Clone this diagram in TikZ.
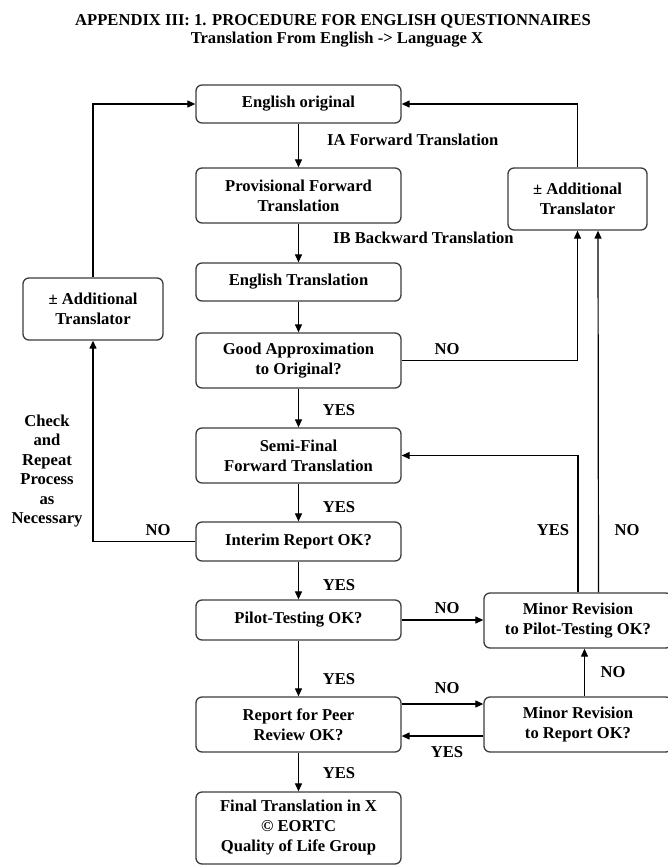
\documentclass[tikz,border=0pt]{standalone}
\usepackage{fontspec}
\setmainfont{Liberation Serif}
\usetikzlibrary{arrows.meta,calc,positioning}
\definecolor{BoxLine}{RGB}{60,60,60}

\begin{document}
\begin{tikzpicture}[x=1pt,y=-1pt,>={Triangle[length=8pt,width=7pt]},
    box/.style={draw=BoxLine,line width=1.3pt,rounded corners=6pt,align=center,
      inner sep=0pt,font=\fontsize{16.6}{20}\selectfont\bfseries},
    lbl/.style={font=\fontsize{16.6}{20}\selectfont\bfseries,inner sep=0pt},
    conn/.style={->,line width=1.2pt}]
  \useasboundingbox (0,0) rectangle (667,865);
  % title
  \node[lbl,anchor=base] (title) at (333,25)
    {APPENDIX III: 1. PROCEDURE FOR ENGLISH QUESTIONNAIRES};
  \node[lbl,anchor=base] (subtitle) at (337,43)
    {Translation From English -> Language X};
  % main column
  \node[box,minimum width=205pt,minimum height=38pt] (orig) at (298.5,104) {English original};
  \node[box,minimum width=205pt,minimum height=55pt] (prov) at (298.5,195.5) {Provisional Forward\\Translation};
  \node[box,minimum width=205pt,minimum height=38pt] (engtr) at (298.5,282) {English Translation};
  \node[box,minimum width=205pt,minimum height=55pt] (approx) at (298.5,360.5) {Good Approximation\\to Original?};
  \node[box,minimum width=205pt,minimum height=55pt] (semi) at (298.5,455.5) {Semi-Final\\Forward Translation};
  \node[box,minimum width=205pt,minimum height=39pt] (interim) at (298.5,541.5) {Interim Report OK?};
  \node[box,minimum width=205pt,minimum height=40pt] (pilot) at (298.5,620) {Pilot-Testing OK?};
  \node[box,minimum width=205pt,minimum height=55pt] (peer) at (298.5,724.5) {Report for Peer\\Review OK?};
  \node[box,minimum width=205pt,minimum height=72pt] (final) at (298.5,828) {Final Translation in X\\© EORTC\\Quality of Life Group};
  % side boxes
  \node[box,minimum width=139pt,minimum height=62pt] (addright) at (577.5,199) {± Additional\\Translator};
  \node[box,minimum width=140pt,minimum height=62pt] (addleft) at (93,309) {± Additional\\Translator};
  \node[box,minimum width=188pt,minimum height=55pt] (minpilot) at (578,620.5) {Minor Revision\\to Pilot-Testing OK?};
  \node[box,minimum width=188pt,minimum height=55pt] (minreport) at (578,724.5) {Minor Revision\\to Report OK?};
  % down the middle
  \draw[conn] (orig) -- (prov);
  \draw[conn] (prov) -- (engtr);
  \draw[conn] (engtr) -- (approx);
  \draw[conn] (approx) -- (semi);
  \draw[conn] (semi) -- (interim);
  \draw[conn] (interim) -- (pilot);
  \draw[conn] (pilot) -- (peer);
  \draw[conn] (peer) -- (final);
  % loops
  \draw[conn] (addleft.north) |- (orig.west);
  \draw[conn] (interim.west) -| (addleft.south);
  \draw[conn] (addright.north) |- (orig.east);
  \draw[conn] (approx.east) -| (addright.south);
  \draw[conn] (minpilot.north) |- (semi.east);
  \draw[conn] ($(minpilot.north)+(20.5,0)$) -- ($(addright.south)+(20.5,0)$);
  \draw[conn] (pilot.east) -- (pilot.east -| minpilot.west);
  \draw[conn] ($(minreport.north)+(6.5,0)$) -- ($(minpilot.south)+(6.5,0)$);
  \draw[conn] ($(peer.east)+(0,-20.5)$) -- ($(minreport.west)+(0,-20.5)$);
  \draw[conn] ($(minreport.west)+(0,11.5)$) -- ($(peer.east)+(0,11.5)$);
  % labels
  \node[lbl,anchor=west] (ia) at (327,140) {IA Forward Translation};
  \node[lbl,anchor=west] (ib) at (333,238) {IB Backward Translation};
  \node[lbl] (yes1) at (339,410) {YES};
  \node[lbl] (yes2) at (339,507) {YES};
  \node[lbl] (yes3) at (339,585) {YES};
  \node[lbl] (yes4) at (339,679) {YES};
  \node[lbl] (yes5) at (339,773) {YES};
  \node[lbl] (no1) at (447,349) {NO};
  \node[lbl] (no2) at (447,608) {NO};
  \node[lbl] (no3) at (447,688) {NO};
  \node[lbl] (yes6) at (447,752) {YES};
  \node[lbl] (yes7) at (553,530) {YES};
  \node[lbl] (no4) at (627,530) {NO};
  \node[lbl] (no5) at (613,672) {NO};
  \node[lbl] (no6) at (158,530) {NO};
  \node[lbl,align=center,font=\fontsize{16.6}{19.5}\selectfont\bfseries] (check) at (47,471)
    {Check\\and\\Repeat\\Process\\as\\Necessary};
\end{tikzpicture}
\end{document}
